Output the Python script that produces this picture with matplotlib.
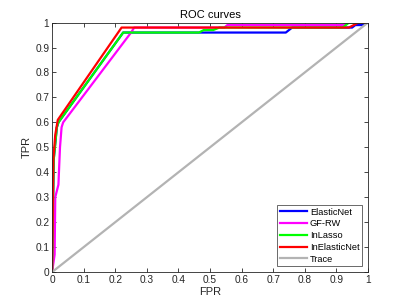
import matplotlib
matplotlib.use("Agg")
import matplotlib.pyplot as plt

plt.rcParams['font.family'] = ['Liberation Sans', 'DejaVu Sans']

en_fpr = [0, 0.005, 0.015, 0.02, 0.225, 0.74, 0.76, 0.95, 0.96, 0.98, 1.0]
en_tpr = [0, 0.45, 0.58, 0.60, 0.96, 0.96, 0.98, 0.98, 0.99, 0.99, 1.0]

gf_fpr = [0, 0.008, 0.01, 0.02, 0.025, 0.03, 0.035, 0.25, 0.26, 0.545, 0.555, 0.92, 0.94, 1.0]
gf_tpr = [0, 0.07, 0.30, 0.35, 0.50, 0.58, 0.60, 0.96, 0.98, 0.98, 0.99, 0.99, 1.0, 1.0]

il_fpr = [0, 0.005, 0.015, 0.02, 0.225, 0.465, 0.48, 0.51, 0.53, 0.92, 0.94, 1.0]
il_tpr = [0, 0.45, 0.58, 0.60, 0.96, 0.96, 0.97, 0.97, 0.98, 0.98, 1.0, 1.0]

ie_fpr = [0, 0.004, 0.01, 0.018, 0.22, 0.94, 0.97, 1.0]
ie_tpr = [0, 0.45, 0.55, 0.61, 0.98, 0.98, 1.0, 1.0]

tr_fpr = [0, 1]
tr_tpr = [0, 1]

xticks = [0, 0.1, 0.2, 0.3, 0.4, 0.5, 0.6, 0.7, 0.8, 0.9, 1]
yticks = [0, 0.1, 0.2, 0.3, 0.4, 0.5, 0.6, 0.7, 0.8, 0.9, 1]
tick_labels = ['0', '0.1', '0.2', '0.3', '0.4', '0.5', '0.6', '0.7', '0.8', '0.9', '1']

fig = plt.figure(figsize=(4.07, 3.05), dpi=100)
ax = fig.add_axes([0.128, 0.108, 0.776, 0.818])

lw = 1.6
ax.plot(en_fpr, en_tpr, color=(0, 0, 1), lw=lw, label='ElasticNet')
ax.plot(gf_fpr, gf_tpr, color=(1, 0, 1), lw=lw, label='GF-RW')
ax.plot(il_fpr, il_tpr, color=(0, 1, 0), lw=lw, label='InLasso')
ax.plot(ie_fpr, ie_tpr, color=(1, 0, 0), lw=lw, label='InElasticNet')
ax.plot(tr_fpr, tr_tpr, color=(0.7, 0.7, 0.7), lw=lw, label='Trace')

ax.set_xlim(0, 1)
ax.set_ylim(0, 1)
ax.set_xticks(xticks)
ax.set_xticklabels(tick_labels)
ax.set_yticks(yticks)
ax.set_yticklabels(tick_labels)
axc = (0.15, 0.15, 0.15)
for s in ax.spines.values():
    s.set_color(axc)
    s.set_linewidth(0.6)
ax.tick_params(direction='in', length=3, width=0.6, colors=axc, labelsize=7.3,
               top=True, right=True, pad=2)
ax.set_xlabel('FPR', fontsize=8, color=axc, labelpad=1.5)
ax.set_ylabel('TPR', fontsize=8, color=axc, labelpad=2.5)
ax.set_title('ROC curves', fontsize=8, color='black', pad=3)

leg = ax.legend(loc='lower right', fontsize=6.7, frameon=True, fancybox=False,
                edgecolor=axc, borderpad=0.3, labelspacing=0.3, handlelength=2.9,
                handletextpad=0.3, borderaxespad=0.6)
leg.get_frame().set_linewidth(0.6)

fig.savefig('out.png', dpi=100)
